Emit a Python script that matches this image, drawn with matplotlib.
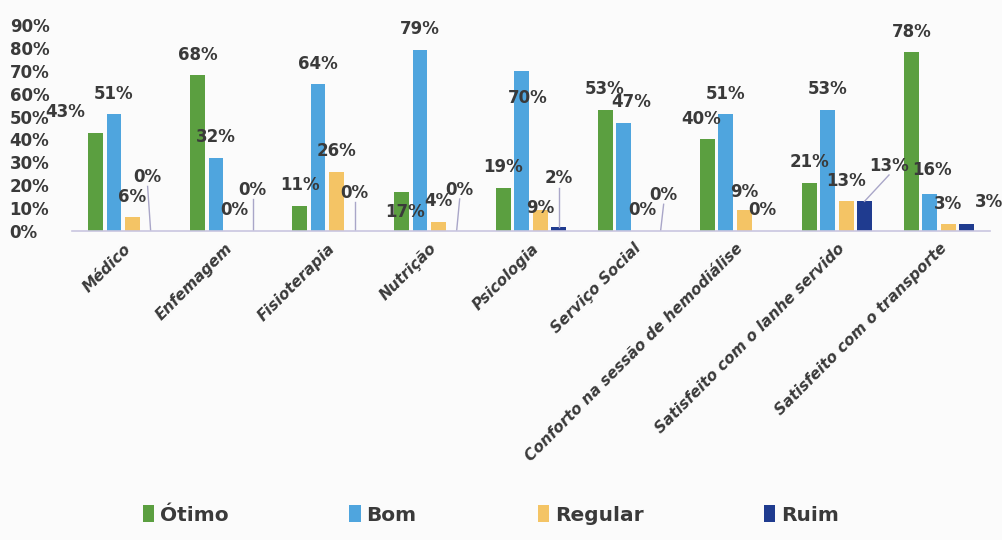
import numpy as np
import matplotlib.pyplot as plt

categorias = ["Médico", "Enfemagem", "Fisioterapia", "Nutrição", "Psicologia",
              "Serviço Social", "Conforto na sessão de hemodiálise",
              "Satisfeito com o lanhe servido", "Satisfeito com o transporte"]
otimo = [43, 68, 11, 17, 19, 53, 40, 21, 78]
bom = [51, 32, 64, 79, 70, 47, 51, 53, 16]
regular = [6, 0, 26, 4, 9, 0, 9, 13, 3]
ruim = [0, 0, 0, 0, 2, 0, 0, 13, 3]

series = [("Ótimo", otimo, "#5b9f40"),
          ("Bom", bom, "#4fa5de"),
          ("Regular", regular, "#f4c465"),
          ("Ruim", ruim, "#1f3b8f")]

# ajustes das etiquetas (dx em categorias, dy em %, linha guia)
ajustes = {
    (0, 0): (-0.3, 9, False), (0, 3): (-0.03, 23.5, True),
    (1, 3): (0, 18, True), (2, 3): (0, 16.5, True),
    (3, 0): (0.03, -8.7, False), (3, 3): (0.03, 18, True),
    (4, 1): (0.06, -11.8, False), (4, 2): (0, 1.3, False), (4, 3): (0, 21, True),
    (5, 0): (-0.01, 9, False), (5, 1): (0.07, 9.5, False), (5, 3): (0.03, 15.7, True),
    (6, 0): (-0.06, 9, False), (6, 2): (0, 8, False),
    (7, 3): (0.24, 15.5, True),
    (8, 1): (0.02, 10.5, False), (8, 3): (0.22, 9.5, False),
}

fig = plt.figure(figsize=(10.02, 5.4), dpi=100)
fig.patch.set_facecolor("#fbfbfb")
ax = fig.add_axes([0.072, 0.572, 0.916, 0.382])
ax.set_facecolor("#fbfbfb")

x = np.arange(len(categorias))
w = 0.145
offs = [-0.27, -0.09, 0.09, 0.27]
for j, (nome, vals, cor) in enumerate(series):
    ax.bar(x + offs[j], vals, w, color=cor, label=nome)
    for i, v in enumerate(vals):
        dx, dy, guia = ajustes.get((i, j), (0, 9, False))
        xt = x[i] + offs[j] + dx
        ax.text(xt, v + dy, f"{v}%", ha="center", va="center",
                fontsize=12, fontweight="bold", color="#3a3a3a")
        if guia:
            ax.plot([x[i] + offs[j], xt], [v, v + dy - 4], color="#a9a6c8", lw=1)

ax.set_xlim(-0.5, len(categorias) - 0.5)
ax.set_ylim(0, 90)
ax.set_yticks(range(0, 91, 10))
ax.set_yticklabels([f"{t}%" for t in range(0, 91, 10)], fontsize=12,
                   fontweight="bold", color="#3a3a3a", ha="left")
ax.tick_params(axis="y", length=0, pad=45)
ax.set_xticks(x)
ax.set_xticklabels(categorias, rotation=45, ha="right", rotation_mode="anchor",
                   fontsize=11, style="italic", fontweight="bold", color="#3a3a3a")
ax.tick_params(axis="x", length=0, pad=7)
for s in ["top", "right", "left"]:
    ax.spines[s].set_visible(False)
ax.spines["bottom"].set_color("#c9c6e0")
ax.spines["bottom"].set_linewidth(1.2)

fig.legend(loc="lower center", bbox_to_anchor=(0.49, -0.005), ncol=4, frameon=False,
           handlelength=0.55, handleheight=0.9, handletextpad=0.3, columnspacing=6.0,
           prop={"size": 14.5, "weight": "bold"}, labelcolor="#3a3a3a")

fig.savefig("out.png", dpi=100, facecolor=fig.get_facecolor())
